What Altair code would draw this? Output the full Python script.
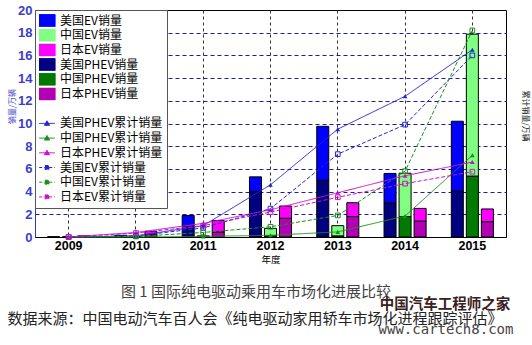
import altair as alt
import pandas as pd

# ---------------- data ----------------
years = ["2009", "2010", "2011", "2012", "2013", "2014", "2015"]
countries = ["美国", "中国", "日本"]

# annual sales (万辆) – PHEV stacked at bottom, EV on top
us_phev = [0.0, 0.05, 0.9, 4.0, 5.0, 3.0, 4.05]
us_ev = [0.0, 0.1, 1.0, 1.3, 4.75, 2.6, 6.15]
cn_phev = [0.0, 0.0, 0.0, 0.1, 0.1, 1.8, 5.37]
cn_ev = [0.0, 0.05, 0.1, 0.66, 0.9, 3.82, 12.5]
jp_phev = [0.0, 0.2, 0.45, 1.65, 1.8, 1.4, 1.35]
jp_ev = [0.1, 0.3, 1.0, 1.08, 1.22, 1.12, 1.12]

# cumulative sales (万辆)
us_phev_cum = [0.0, 0.1, 1.0, 4.6, 9.5, 12.4, 16.5]
cn_phev_cum = [0.0, 0.0, 0.05, 0.15, 0.45, 1.85, 7.2]
jp_phev_cum = [0.0, 0.4, 1.2, 2.4, 3.9, 5.4, 6.6]
us_ev_cum = [0.0, 0.1, 0.8, 2.5, 7.3, 9.9, 16.0]
cn_ev_cum = [0.0, 0.05, 0.4, 0.9, 1.9, 5.8, 18.2]
jp_ev_cum = [0.0, 0.35, 1.0, 2.2, 3.5, 4.7, 5.75]

series_domain = [
    "美国EV销量", "中国EV销量", "日本EV销量",
    "美国PHEV销量", "中国PHEV销量", "日本PHEV销量",
    " ",
    "美国PHEV累计销量", "中国PHEV累计销量", "日本PHEV累计销量",
    "美国EV累计销量", "中国EV累计销量", "日本EV累计销量",
]
series_colors = [
    "#0000ff", "#80ff80", "#ff00ff",
    "#000080", "#007a00", "#b400b4",
    "#ffffff",
    "#2525d2", "#1a8f1a", "#cc10cc",
    "#2525d2", "#1a8f1a", "#cc10cc",
]

caption = "图 1 国际纯电驱动乘用车市场化进展比较"
source = "数据来源：中国电动汽车百人会《纯电驱动家用轿车市场化进程跟踪评估》"
right_title = "累计销量/万辆"
watermark1 = "中国汽车工程师之家"
watermark2 = "www.cartech8.com"

# ---------------- tables ----------------
bar_rows = []
for c, phev, ev in [("美国", us_phev, us_ev), ("中国", cn_phev, cn_ev), ("日本", jp_phev, jp_ev)]:
    for i, yr in enumerate(years):
        bar_rows.append({"year": yr, "country": c, "series": c + "PHEV销量", "order": 0, "value": phev[i]})
        bar_rows.append({"year": yr, "country": c, "series": c + "EV销量", "order": 1, "value": ev[i]})
bars_df = pd.DataFrame(bar_rows)

cum_rows = []
for c, kind, vals in [("美国", "PHEV", us_phev_cum), ("中国", "PHEV", cn_phev_cum), ("日本", "PHEV", jp_phev_cum),
                      ("美国", "EV", us_ev_cum), ("中国", "EV", cn_ev_cum), ("日本", "EV", jp_ev_cum)]:
    for i, yr in enumerate(years):
        cum_rows.append({"year": yr, "series": c + kind + "累计销量", "kind": kind, "value": vals[i]})
cum_df = pd.DataFrame(cum_rows)

# ---------------- styling ----------------
CJK = "Noto Sans CJK SC"
color_scale = alt.Scale(domain=series_domain, range=series_colors)
ticks_vals = list(range(0, 21, 2))

SYM = ("datum.index < 6 ? 'M-1.25,-0.92H1.25V0.92H-1.25Z' : datum.index == 6 ? 'M0,0' : "
       "datum.index < 10 ? 'M-1.2,0H1.2M-0.4,0.3L0,-0.4L0.4,0.3Z' : "
       "'M-1.2,0H1.2M-0.3,-0.3H0.3V0.3H-0.3Z'")

legend = alt.Legend(
    title=None, orient="top-left", offset=0, zindex=1,
    fillColor="white", strokeColor="#555", padding=4,
    symbolSize=169, symbolType={"expr": SYM},
    symbolStrokeColor={"expr": "datum.index < 6 ? 'black' : scale('color', datum.value)"},
    symbolStrokeWidth=1,
    symbolDash={"expr": "datum.index >= 10 ? [3, 2] : [1, 0]"},
    symbolOpacity=1, symbolOffset=1,
    labelFont=CJK, labelFontSize=12, labelColor="black", labelOffset=6,
    clipHeight=13, rowPadding=1.7, labelLimit=200,
)

x_axis = alt.Axis(
    title="年度", titleFont=CJK, titleFontSize=9.5, titleFontWeight="normal", titlePadding=3,
    labelAngle=0, labelFontSize=12.5, labelFontWeight="bold", labelColor="black", labelPadding=2,
    ticks=False, domainColor="black", grid=True, gridColor="#333333", gridDash=[3, 3], gridWidth=1,
)

left_axis = alt.Axis(
    title="销量/万辆", titleFont=CJK, titleFontSize=8, titleColor="#3c3cd0", titleFontWeight="normal",
    titleX=-23, titleY=96, titleAlign="center", titleBaseline="middle",
    values=ticks_vals, labelFontSize=13, labelFontWeight="bold", labelColor="#3c3cd0", labelPadding=3,
    ticks=False, domainColor="#3030e0", domainWidth=1,
    grid=True, gridColor="#1c1ca0", gridDash=[4, 3], gridWidth=1,
    gridOpacity={"condition": {"test": "datum.value == 0 || datum.value == 20", "value": 0}, "value": 1},
)

right_axis = alt.Axis(
    orient="right", title=None,
    values=ticks_vals, labelFontSize=13.5, labelFontWeight="normal", labelColor="black", labelPadding=1,
    ticks=True, tickSize=3, tickColor="black", domainColor="black", grid=False,
)

x_enc = alt.X("year:N", sort=years, scale=alt.Scale(paddingInner=0.33, paddingOuter=0.165), axis=x_axis)

# ---------------- layers ----------------
bars = alt.Chart(bars_df).transform_stack(
    stack="value", as_=["y0", "y1"], groupby=["year", "country"],
    sort=[alt.SortField("order", order="ascending")],
).mark_bar(stroke="black", strokeWidth=1).encode(
    x=x_enc,
    xOffset=alt.XOffset("country:N", scale=alt.Scale(domain=countries, paddingInner=0.2, paddingOuter=0.1)),
    y=alt.Y("y0:Q", scale=alt.Scale(domain=[0, 20]), axis=left_axis),
    y2="y1:Q",
    color=alt.Color("series:N", scale=color_scale, legend=legend),
)

y_right = alt.Y("value:Q", scale=alt.Scale(domain=[0, 20]), axis=right_axis)

lines = alt.Chart(cum_df).mark_line(strokeWidth=1).encode(
    x=alt.X("year:N", sort=years),
    y=y_right,
    color=alt.Color("series:N", scale=color_scale, legend=None),
    strokeDash=alt.StrokeDash("kind:N", scale=alt.Scale(domain=["PHEV", "EV"], range=[[1, 0], [4, 2]]), legend=None),
)

tris = alt.Chart(cum_df).transform_filter("datum.kind == 'PHEV'").mark_point(
    shape="triangle-up", filled=True, size=22, opacity=1
).encode(
    x=alt.X("year:N", sort=years),
    y=alt.Y("value:Q", scale=alt.Scale(domain=[0, 20]), axis=None),
    color=alt.Color("series:N", scale=color_scale, legend=None),
)

squares = alt.Chart(cum_df).transform_filter("datum.kind == 'EV'").mark_point(
    shape="square", filled=False, size=22, strokeWidth=1, opacity=1
).encode(
    x=alt.X("year:N", sort=years),
    y=alt.Y("value:Q", scale=alt.Scale(domain=[0, 20]), axis=None),
    color=alt.Color("series:N", scale=color_scale, legend=None),
)

line_group = alt.layer(lines, tris, squares)


def text_layer(txt, x, y, **kw):
    return alt.Chart(pd.DataFrame({"t": [txt]})).mark_text(baseline="middle", **kw).encode(
        text="t:N", x=alt.value(x), y=alt.value(y)
    )


rt = text_layer(right_title, 490, 106, align="center", angle=90, font=CJK, fontSize=8, color="#222222")
cap = text_layer(caption, 221, 282, align="center", font=CJK, fontSize=15, color="#444444")
src = text_layer(source, 220, 309, align="center", font=CJK, fontSize=15, color="#222222")
wm1 = text_layer(watermark1, 410, 295, align="center", font=CJK, fontSize=14.5, fontWeight="bold", color="#3a2020")
wm2 = text_layer(watermark2, 411, 320, align="center", font="DejaVu Sans Mono", fontSize=14, color="#444444")

chart = alt.layer(bars, line_group, rt, cap, src, wm1, wm2).resolve_scale(
    y="independent"
).properties(
    width=471, height=227,
    padding={"left": 35, "top": 10, "right": 26, "bottom": 108},
    autosize="none",
).configure(font="Liberation Sans").configure_view(stroke="black", strokeWidth=1)

chart.save("out.html", embed_options={"renderer": "svg", "actions": False})
